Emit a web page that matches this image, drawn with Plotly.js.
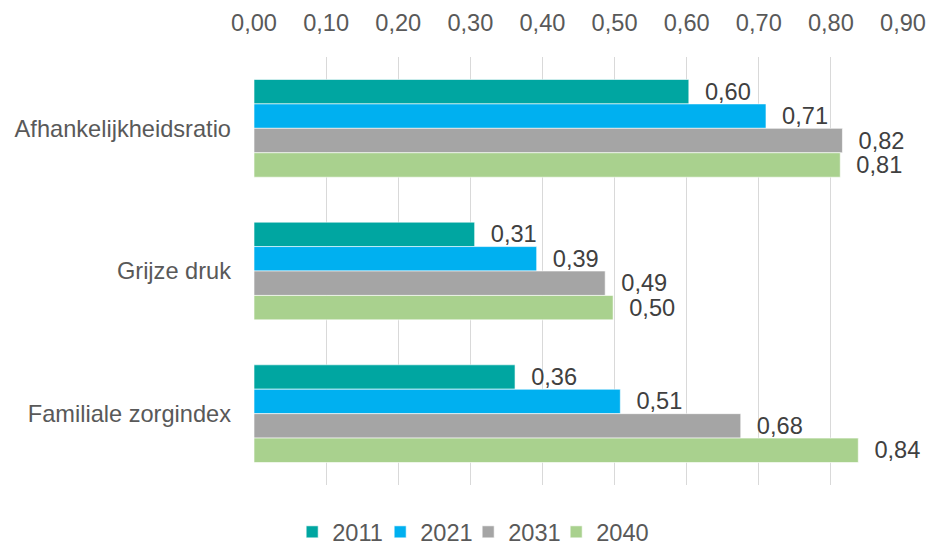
<!DOCTYPE html>
<html>
<head>
<meta charset="utf-8">
<script src="https://cdn.plot.ly/plotly-3.0.1.min.js"></script>
<style>html,body{margin:0;padding:0;background:#fff;}#chart{width:928px;height:545px;}</style>
</head>
<body>
<div id="chart"></div>
<script>
const categories = ["Afhankelijkheidsratio", "Grijze druk", "Familiale zorgindex"];
const years = ["2011", "2021", "2031", "2040"];
const v2011 = [0.603, 0.306, 0.362];
const v2021 = [0.710, 0.392, 0.508];
const v2031 = [0.816, 0.487, 0.675];
const v2040 = [0.813, 0.498, 0.838];
const colors = ["#00A6A1", "#00B0F0", "#A5A5A5", "#A9D18E"];
const series = [v2011, v2021, v2031, v2040];

const font = "Liberation Sans, Arial, sans-serif";
const fs = 23.6;
const traces = series.map((vals, i) => ({
  type: "bar",
  orientation: "h",
  name: years[i],
  y: categories,
  x: vals,
  marker: {color: colors[i], line: {color: "rgba(255,255,255,0.6)", width: 1}},
  text: vals,
  texttemplate: "\u00a0\u00a0%{x:.2f}",
  textposition: "outside",
  constraintext: "none",
  textfont: {family: font, size: fs, color: "#404040"},
  cliponaxis: false,
  hoverinfo: "skip"
}));

const layout = {
  width: 928, height: 545,
  margin: {l: 254, r: 25, t: 57, b: 60},
  separators: ",.",
  barmode: "group",
  bargap: 0.315,
  bargroupgap: 0,
  paper_bgcolor: "#fff",
  plot_bgcolor: "#fff",
  font: {family: font, size: fs, color: "#595959"},
  xaxis: {
    side: "top",
    range: [0, 0.9],
    dtick: 0.1,
    tickformat: ".2f",
    showgrid: true,
    gridcolor: "#D9D9D9",
    gridwidth: 1,
    zeroline: false,
    showline: false,
    ticks: "",
    automargin: false,
    ticklabelstandoff: 20,
    tickfont: {family: font, size: fs, color: "#595959"},
    fixedrange: true
  },
  yaxis: {
    autorange: "reversed",
    showgrid: false,
    zeroline: false,
    showline: false,
    ticks: "",
    automargin: false,
    ticklabelstandoff: 22,
    tickfont: {family: font, size: fs, color: "#595959"},
    fixedrange: true
  },
  legend: {
    orientation: "h",
    x: 0.330, xanchor: "center",
    yref: "container",
    y: 0, yanchor: "bottom",
    font: {family: font, size: fs, color: "#595959"},
    itemwidth: 30,
    entrywidth: 43,
    traceorder: "normal"
  },
  showlegend: true
};

Plotly.newPlot("chart", traces, layout, {displayModeBar: false, staticPlot: true}).then(gd => {
  const lg = gd.querySelector("g.legend");
  if (!lg) return;
  const m = /translate\(\s*([-\d.]+)[ ,]+([-\d.]+)\s*\)/.exec(lg.getAttribute("transform") || "");
  if (m) lg.setAttribute("transform", "translate(" + m[1] + "," + (parseFloat(m[2]) + 9) + ")");
  lg.querySelectorAll("[clip-path]").forEach(e => e.removeAttribute("clip-path"));
});
</script>
</body>
</html>
